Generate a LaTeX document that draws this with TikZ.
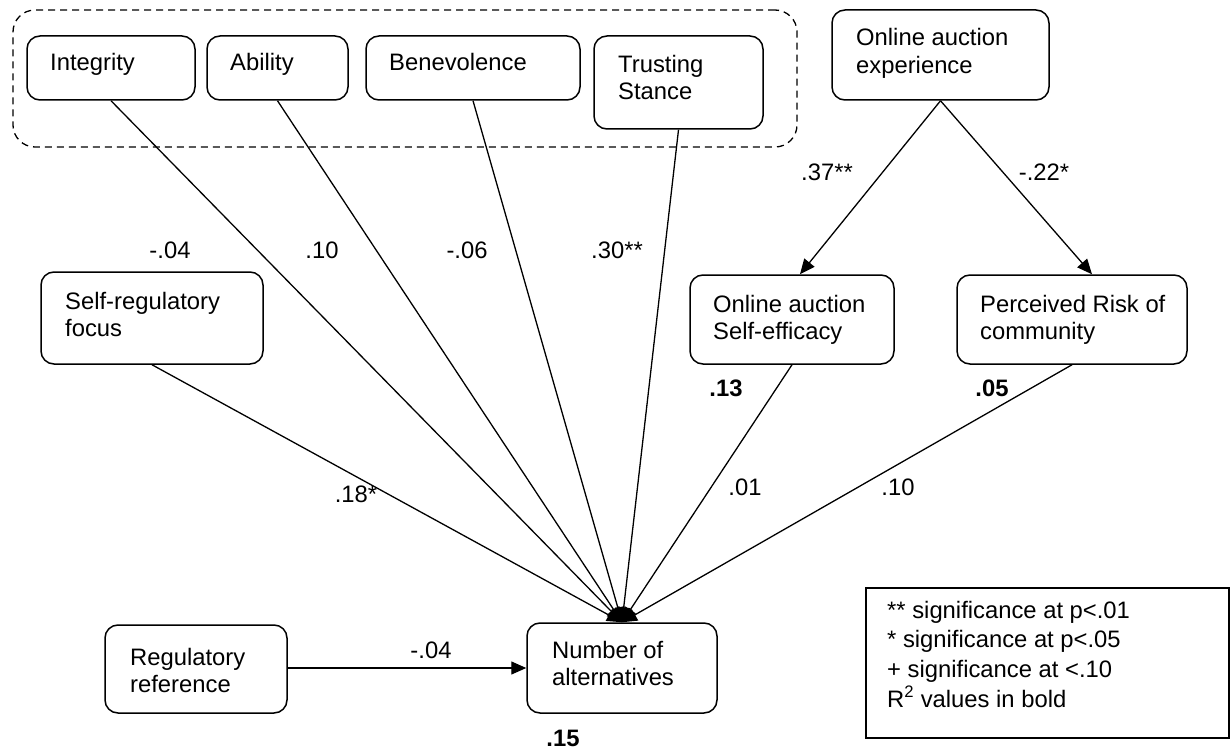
\documentclass[tikz,border=0pt]{standalone}
\usepackage{fontspec}
\setmainfont{Liberation Sans}
\usetikzlibrary{arrows.meta,calc}
\begin{document}
\begin{tikzpicture}[x=1pt,y=-1pt,
  every node/.style={font=\fontsize{23.8pt}{27.5pt}\selectfont},
  box/.style={draw,rounded corners=13pt,line width=1.5pt,inner sep=0pt},
  txt/.style={inner sep=0pt,align=left,anchor=base west},
  lbl/.style={inner sep=0pt},
  arr/.style={line width=1.3pt,-{Triangle[length=15pt,width=13pt]}},
  grp/.style={draw,dash pattern=on 7pt off 5pt,rounded corners=22pt,line width=1.3pt,inner sep=0pt}]
\useasboundingbox (0,0) rectangle (1231,749);
% group
\node[grp,minimum width=784pt,minimum height=137pt] (grp) at (405,78.5) {};
% boxes
\node[box,minimum width=168pt,minimum height=64pt] (int) at (111,68) {};
\node[box,minimum width=141pt,minimum height=64pt] (abi) at (277.5,68) {};
\node[box,minimum width=214pt,minimum height=64pt] (ben) at (473,68) {};
\node[box,minimum width=169pt,minimum height=93pt] (tru) at (678.5,82.5) {};
\node[box,minimum width=217pt,minimum height=90pt] (exp) at (940.5,55) {};
\node[box,minimum width=222pt,minimum height=92pt] (srf) at (152,318) {};
\node[box,minimum width=204pt,minimum height=89pt] (eff) at (792,319.5) {};
\node[box,minimum width=230pt,minimum height=89pt] (rsk) at (1072,319.5) {};
\node[box,minimum width=182pt,minimum height=88pt] (reg) at (196,669) {};
\node[box,minimum width=190pt,minimum height=90pt] (num) at (622,668) {};
\node[draw,line width=1.5pt,inner sep=0pt,minimum width=363pt,minimum height=150pt] (leg) at (1047.5,663) {};
% texts (base anchor = baseline of last line)
\node[txt] (intT) at (50,71) {Integrity};
\node[txt] (abiT) at (230,71) {Ability};
\node[txt] (benT) at (389,71) {Benevolence};
\node[txt] (truT) at (618,99.5) {Trusting\\Stance};
\node[txt] (expT) at (856,73.5) {Online auction\\experience};
\node[txt] (srfT) at (65,336.5) {Self-regulatory\\focus};
\node[txt] (effT) at (713,339.5) {Online auction\\Self-efficacy};
\node[txt] (rskT) at (980,339.5) {Perceived Risk of\\community};
\node[txt] (regT) at (130,692.5) {Regulatory\\reference};
\node[txt] (numT) at (552,685.5) {Number of\\alternatives};
\node[txt,font=\fontsize{23.8pt}{29.6pt}\selectfont] (legT) at (887,707) {** significance at p<.01\\* significance at p<.05\\+ significance at <.10\\R\textsuperscript{2} values in bold};
% connectors
\draw[arr] (int.south) -- (num.north);
\draw[arr] (abi.south) -- (num.north);
\draw[arr] (ben.south) -- (num.north);
\draw[arr] (tru.south) -- (num.north);
\draw[arr] (srf.south) -- (num.north);
\draw[arr] (eff.south) -- (num.north);
\draw[arr] (rsk.south) -- (num.north);
\draw[arr] (reg.east |- num.west) -- (num.west);
\draw[arr] (exp.south) -- ($(eff.north)+(8,0)$);
\draw[arr] (exp.south) -- ($(rsk.north)+(20,0)$);
% labels
\node[lbl] (l1) at (170,250) {-.04};
\node[lbl] (l2) at (322,250) {.10};
\node[lbl] (l3) at (467,250) {-.06};
\node[lbl] (l4) at (617,250) {.30**};
\node[lbl] (l5) at (827,172) {.37**};
\node[lbl] (l6) at (1044,172) {-.22*};
\node[lbl] (l7) at (356,494) {.18*};
\node[lbl] (l8) at (745,487) {.01};
\node[lbl] (l9) at (898,487) {.10};
\node[lbl] (l10) at (431,650) {-.04};
\node[lbl,font=\fontsize{23.8pt}{27.5pt}\selectfont\bfseries] (r1) at (726,388) {.13};
\node[lbl,font=\fontsize{23.8pt}{27.5pt}\selectfont\bfseries] (r2) at (992,388) {.05};
\node[lbl,font=\fontsize{23.8pt}{27.5pt}\selectfont\bfseries] (r3) at (563,738) {.15};
\end{tikzpicture}
\end{document}
